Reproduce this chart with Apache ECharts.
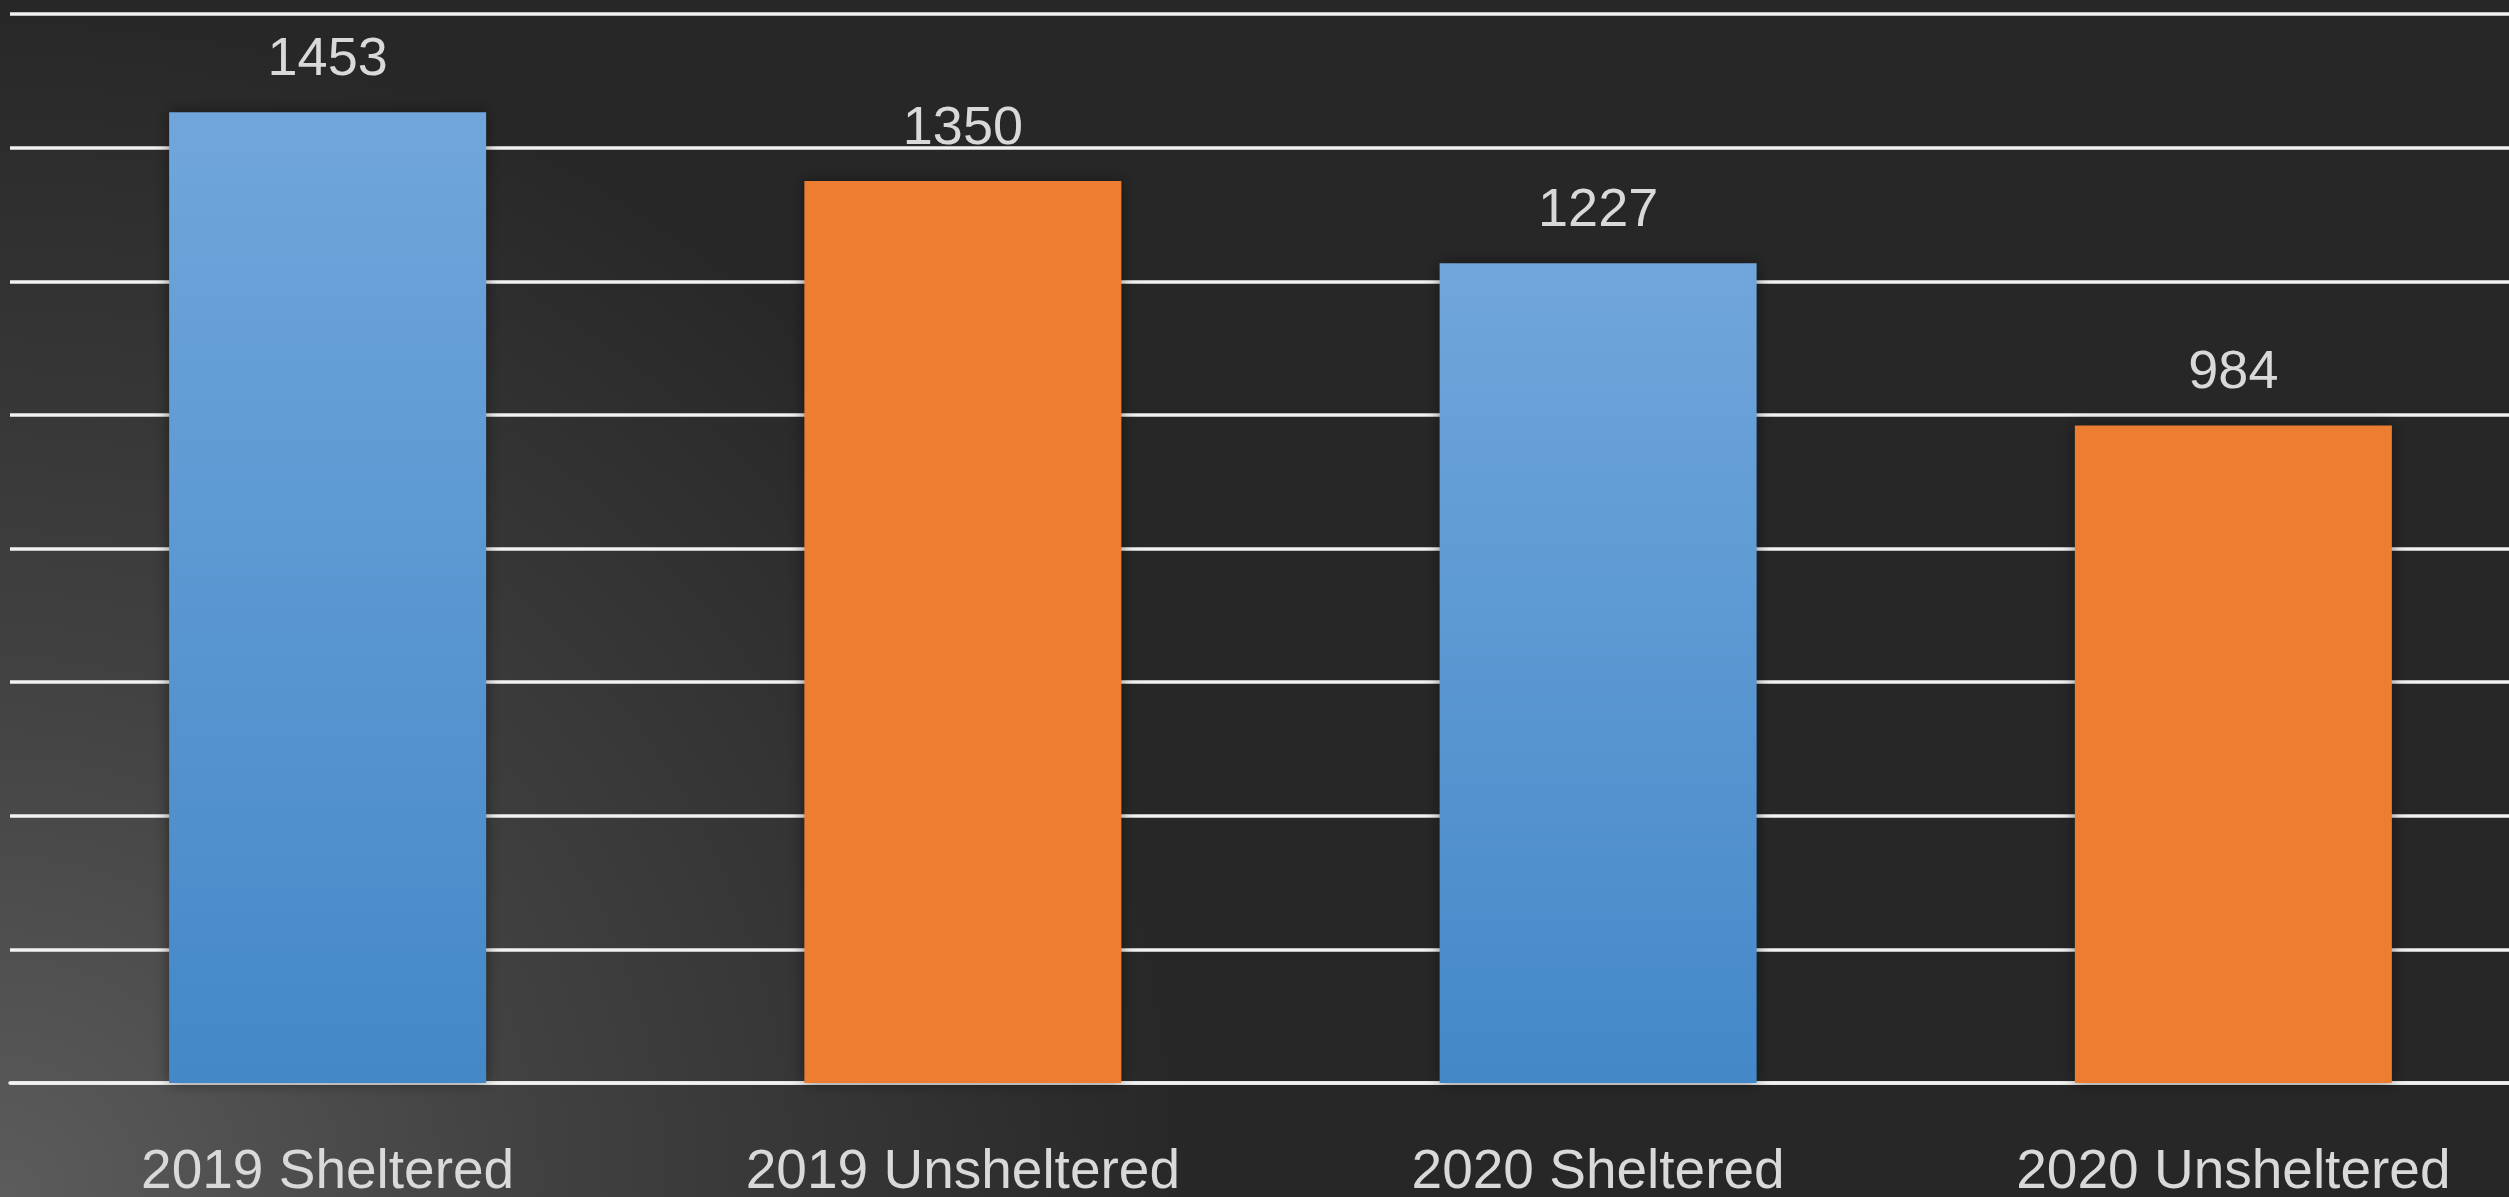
<!DOCTYPE html>
<html>
<head>
<meta charset="utf-8">
<script src="https://cdn.jsdelivr.net/npm/echarts@6/dist/echarts.min.js"></script>
<style>
  html, body { margin: 0; padding: 0; background: #272727; }
  #chart { width: 2509px; height: 1197px; }
</style>
</head>
<body>
<div id="chart"></div>
<script>
// categories and counts
var categories = ["2019 Sheltered", "2019 Unsheltered", "2020 Sheltered", "2020 Unsheltered"];
var counts = [1453, 1350, 1227, 984];
// which bars are sheltered (blue) vs unsheltered (orange)
var isSheltered = [true, false, true, false];

var blueFill = new echarts.graphic.LinearGradient(0, 0, 0, 1, [
  { offset: 0, color: "#70a6db" },
  { offset: 1, color: "#4488c8" },
]);
var orangeFill = "#ed7d31";

var chart = echarts.init(document.getElementById("chart"));
chart.setOption({
  backgroundColor: new echarts.graphic.RadialGradient(0, 1, 1.0, [
    { offset: 0, color: "#5c5c5c" },
    { offset: 0.45, color: "#414141" },
    { offset: 1, color: "#272727" },
  ]),
  animation: false,
  grid: {
    left: 10,
    right: -42,
    top: 14,
    bottom: 114,
    containLabel: false,
    outerBoundsMode: "none",
  },
  xAxis: {
    type: "category",
    data: categories,
    axisTick: { show: false },
    axisLine: { lineStyle: { color: "#f2f2f2", width: 3.5 } },
    axisLabel: {
      color: "#d9d9d9",
      fontFamily: "Liberation Sans",
      fontSize: 55,
      margin: 62,
    },
  },
  yAxis: {
    type: "value",
    min: 0,
    max: 1600,
    interval: 200,
    axisLabel: { show: false },
    axisLine: { show: false },
    axisTick: { show: false },
    splitLine: { lineStyle: { color: "#f2f2f2", width: 3.5 } },
  },
  series: [
    {
      type: "bar",
      barWidth: 317,
      data: counts.map(function (v, i) {
        return {
          value: v,
          itemStyle: { color: isSheltered[i] ? blueFill : orangeFill },
        };
      }),
      itemStyle: {
        shadowBlur: 14,
        shadowColor: "rgba(0,0,0,0.45)",
      },
      label: {
        show: true,
        position: "top",
        distance: 25,
        color: "#d9d9d9",
        fontFamily: "Liberation Sans",
        fontSize: 54,
      },
    },
  ],
});
</script>
</body>
</html>
